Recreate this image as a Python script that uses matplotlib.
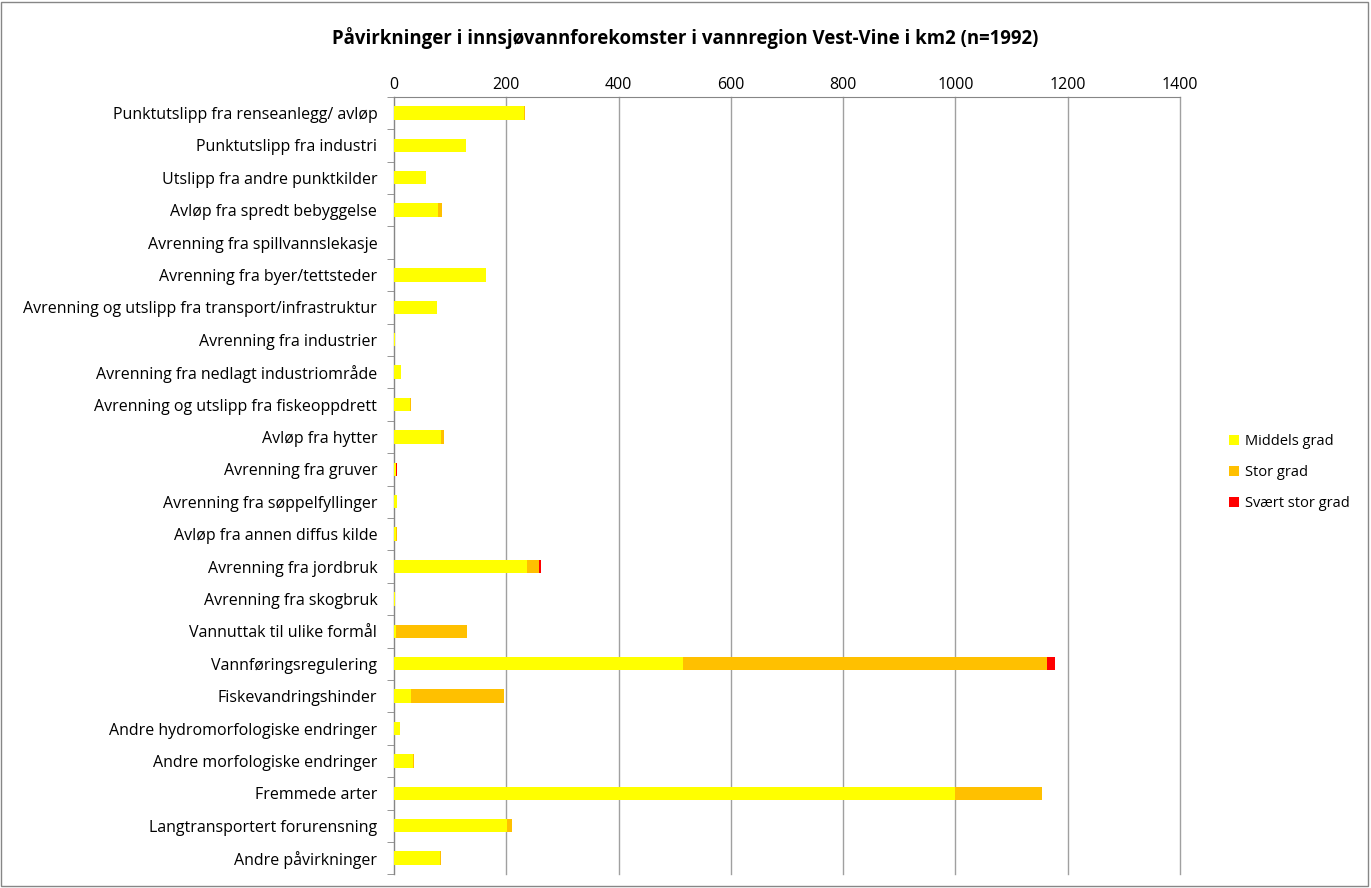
import matplotlib.pyplot as plt
from matplotlib.patches import Rectangle
import numpy as np

categories = [
    "Punktutslipp fra renseanlegg/ avløp",
    "Punktutslipp fra industri",
    "Utslipp fra andre punktkilder",
    "Avløp fra spredt bebyggelse",
    "Avrenning fra spillvannslekasje",
    "Avrenning fra byer/tettsteder",
    "Avrenning og utslipp fra transport/infrastruktur",
    "Avrenning fra industrier",
    "Avrenning fra nedlagt industriområde",
    "Avrenning og utslipp fra fiskeoppdrett",
    "Avløp fra hytter",
    "Avrenning fra gruver",
    "Avrenning fra søppelfyllinger",
    "Avløp fra annen diffus kilde",
    "Avrenning fra jordbruk",
    "Avrenning fra skogbruk",
    "Vannuttak til ulike formål",
    "Vannføringsregulering",
    "Fiskevandringshinder",
    "Andre hydromorfologiske endringer",
    "Andre morfologiske endringer",
    "Fremmede arter",
    "Langtransportert forurensning",
    "Andre påvirkninger",
]
middels = [231, 128, 57, 79, 0, 164, 76, 2, 13, 28, 83, 3, 6, 3, 236, 2, 3, 515, 30, 10, 34, 1000, 202, 81]
stor = [3, 0, 0, 7, 0, 0, 1, 0, 0, 2, 6, 0, 0, 2, 23, 0, 127, 648, 165, 1, 2, 155, 9, 3]
svaert = [0, 0, 0, 0, 0, 0, 0, 0, 0, 0, 0, 2, 0, 0, 3, 0, 0, 15, 0, 0, 0, 0, 0, 0]
series_names = ["Middels grad", "Stor grad", "Svært stor grad"]
colors = ["#FFFF00", "#FFC000", "#FF0000"]

plt.rcParams['font.family'] = ['Open Sans', 'DejaVu Sans']

fig = plt.figure(figsize=(13.71, 8.88), dpi=100)
ax = fig.add_axes([0.2874, 0.0154, 0.5733, 0.8757])

y = np.arange(len(categories))
left = np.zeros(len(categories))
for vals, name, c in zip([middels, stor, svaert], series_names, colors):
    vals = np.array(vals, dtype=float)
    ax.barh(y, vals, left=left, height=0.41, color=c, label=name, zorder=3)
    left += vals

ax.set_ylim(len(categories) - 0.5, -0.5)
ax.set_xlim(0, 1400)
ax.set_xticks(np.arange(0, 1401, 200))
ax.xaxis.tick_top()
ax.tick_params(axis='x', length=0, labelsize=11.5, pad=3)
ax.grid(axis='x', color='#a0a0a0', linewidth=1, zorder=0)
for gl in ax.get_xgridlines():
    gl.set_clip_on(False)

ax.set_yticks(y)
ax.set_yticklabels(categories, fontsize=11.5)
ax.tick_params(axis='y', length=0, pad=12)
ax.set_yticks(np.arange(-0.5, len(categories)), minor=True)
ax.tick_params(axis='y', which='minor', length=5, color='#868686')

for s in ['right', 'bottom']:
    ax.spines[s].set_visible(False)
ax.spines['left'].set_color('#868686')
ax.spines['top'].set_color('#868686')

fig.text(0.5, 0.957, "Påvirkninger i innsjøvannforekomster i vannregion Vest-Vine i km2 (n=1992)",
         fontsize=13.4, fontweight='bold', ha='center', va='center')

ax.legend(loc='center left', bbox_to_anchor=(1.045, 0.517), frameon=False,
          fontsize=10.5, handlelength=0.7, handleheight=0.7, labelspacing=1.1,
          handletextpad=0.4)

fig.patches.append(Rectangle((0.001, 0.002), 0.997, 0.996, transform=fig.transFigure,
                             fill=False, edgecolor='#868686', linewidth=1))

plt.savefig('out.png', dpi=100)
